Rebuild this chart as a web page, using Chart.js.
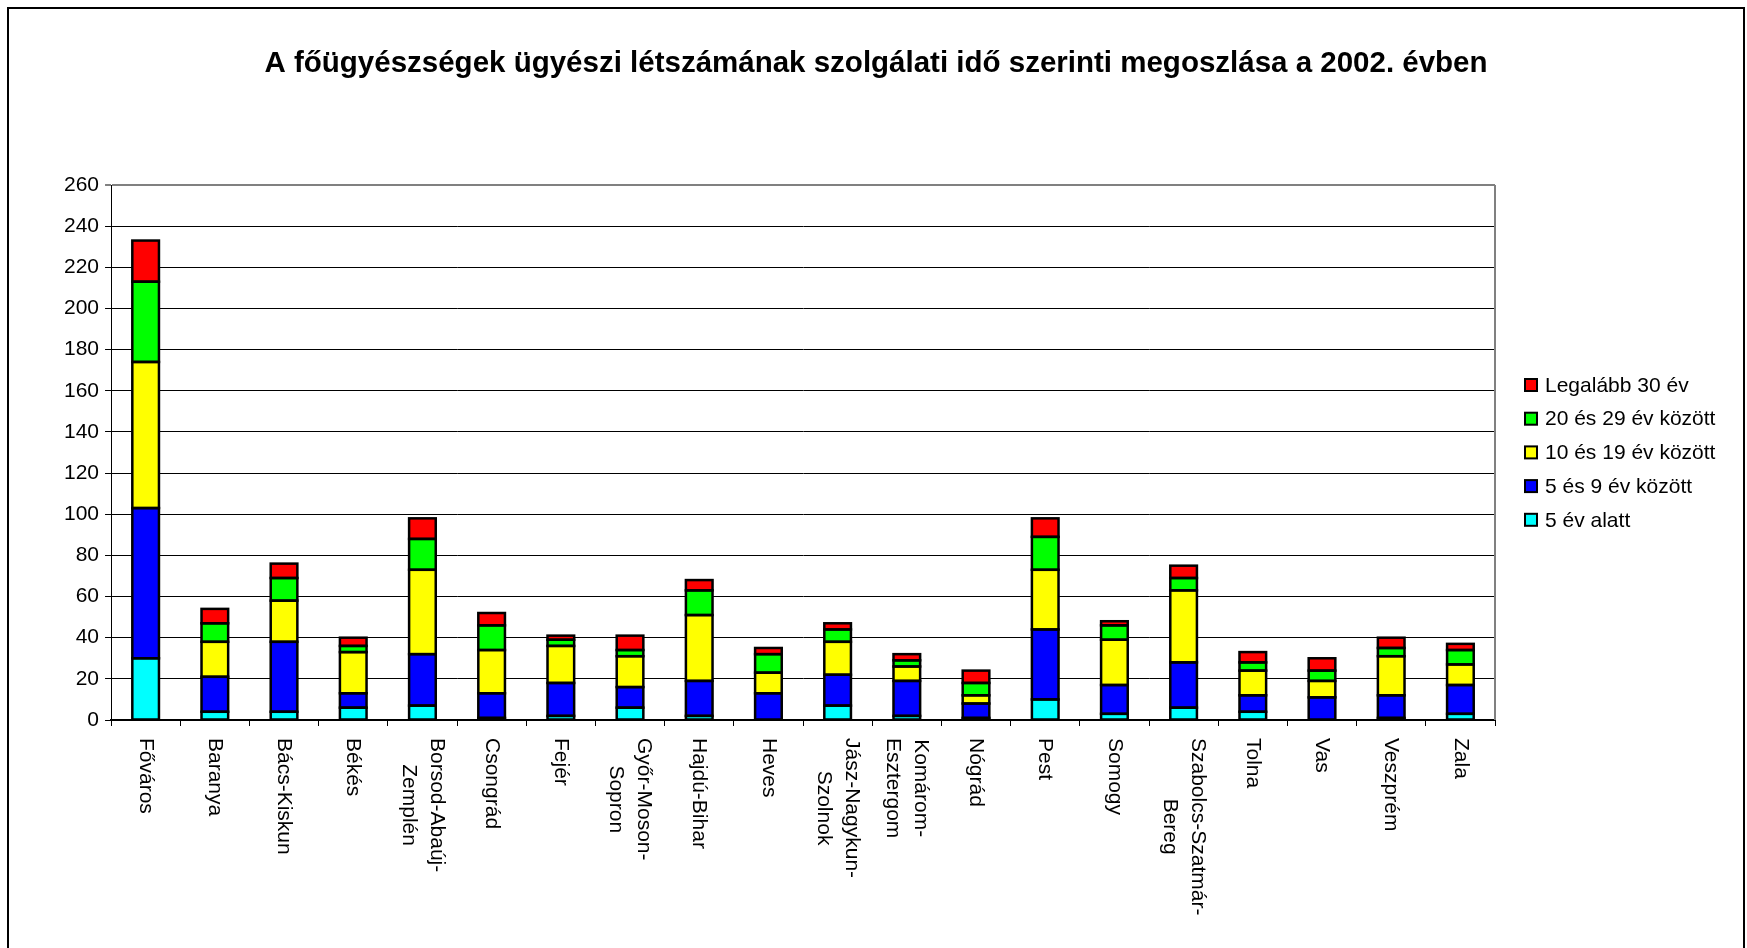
<!DOCTYPE html>
<html>
<head>
<meta charset="utf-8">
<script src="https://cdn.jsdelivr.net/npm/chart.js@4"></script>
<style>
  body { margin: 0; background: #fff; overflow: hidden; }
  #frame { position: absolute; left: 7px; top: 7px; width: 1738px; height: 1000px; border: 2px solid #000; box-sizing: border-box; }
  #chart { position: absolute; left: 0; top: 0; }
</style>
</head>
<body>
<div id="frame"></div>
<canvas id="chart" width="1747" height="948"></canvas>
<script>
const categories = [
    "Főváros", "Baranya", "Bács-Kiskun", "Békés", ["Borsod-Abaúj-", "Zemplén"], "Csongrád", "Fejér",
    ["Győr-Moson-", "Sopron"], "Hajdú-Bihar", "Heves", ["Jász-Nagykun-", "Szolnok"], ["Komárom-", "Esztergom"],
    "Nógrád", "Pest", "Somogy", ["Szabolcs-Szatmár-", "Bereg"], "Tolna", "Vas", "Veszprém", "Zala"
];
const alatt5 = [30, 4, 4, 6, 7, 1, 2, 6, 2, 0, 7, 2, 1, 10, 3, 6, 4, 0, 1, 3];
const kozott5_9 = [73, 17, 34, 7, 25, 12, 16, 10, 17, 13, 15, 17, 7, 34, 14, 22, 8, 11, 11, 14];
const kozott10_19 = [71, 17, 20, 20, 41, 21, 18, 15, 32, 10, 16, 7, 4, 29, 22, 35, 12, 8, 19, 10];
const kozott20_29 = [39, 9, 11, 3, 15, 12, 3, 3, 12, 9, 6, 3, 6, 16, 7, 6, 4, 5, 4, 7];
const legalabb30 = [20, 7, 7, 4, 10, 6, 2, 7, 5, 3, 3, 3, 6, 9, 2, 6, 5, 6, 5, 3];
const yTicks = [0, 20, 40, 60, 80, 100, 120, 140, 160, 180, 200, 220, 240, 260];

const title = "A főügyészségek ügyészi létszámának szolgálati idő szerinti megoszlása a 2002. évben";
const font = "Liberation Sans, Arial, sans-serif";

function ds(label, data, color) {
    return {
        label: label,
        data: data,
        backgroundColor: color,
        borderWidth: 0,
        inflateAmount: 0,
        barPercentage: 0.385,
        categoryPercentage: 1,
    };
}

// black outline round every bar segment (Excel style)
const outlines = {
    id: "outlines",
    afterDatasetsDraw(chart) {
        const ctx = chart.ctx;
        ctx.save();
        ctx.strokeStyle = "#000";
        ctx.lineWidth = 2.5;
        chart.data.datasets.forEach((d, i) => {
            chart.getDatasetMeta(i).data.forEach((el) => {
                const p = el.getProps(["x", "y", "base", "width"], true);
                const h = Math.abs(p.base - p.y);
                if (h < 0.5) return;
                ctx.strokeRect(p.x - p.width / 2, Math.min(p.y, p.base), p.width, h);
            });
        });
        ctx.restore();
    },
};

// title, frame lines, rotated x labels and legend
const extras = {
    id: "extras",
    afterDraw(chart) {
        const ctx = chart.ctx;
        const area = chart.chartArea;
        const xs = chart.scales.x;
        ctx.save();

        // gray right border of the plot
        ctx.strokeStyle = "#808080";
        ctx.lineWidth = 2;
        ctx.beginPath();
        ctx.moveTo(area.right, area.top);
        ctx.lineTo(area.right, area.bottom);
        ctx.stroke();

        ctx.fillStyle = "#000";
        ctx.font = "bold 29.5px " + font;
        ctx.textAlign = "center";
        ctx.textBaseline = "middle";
        ctx.fillText(title, 876, 64);

        // x labels, turned clockwise, lines centred on each other
        ctx.font = "21px " + font;
        ctx.textAlign = "left";
        categories.forEach((lab, i) => {
            const lines = Array.isArray(lab) ? lab : [lab];
            const widths = lines.map((ln) => ctx.measureText(ln).width);
            const maxW = Math.max(...widths);
            const x = xs.getPixelForValue(i);
            ctx.save();
            ctx.translate(x, area.bottom + 18);
            ctx.rotate(Math.PI / 2);
            lines.forEach((ln, k) => {
                ctx.fillText(ln, (maxW - widths[k]) / 2, (k - (lines.length - 1) / 2) * 28);
            });
            ctx.restore();
        });

        // legend, top item is the last dataset
        const sets = chart.data.datasets.slice().reverse();
        let y = 385;
        sets.forEach((d) => {
            ctx.fillStyle = d.backgroundColor;
            ctx.fillRect(area.right + 30, y - 6, 12, 12);
            ctx.strokeStyle = "#000";
            ctx.lineWidth = 2;
            ctx.strokeRect(area.right + 30, y - 6, 12, 12);
            ctx.fillStyle = "#000";
            ctx.fillText(d.label, area.right + 50, y + 1);
            y += 33.7;
        });
        ctx.restore();
    },
};

const ctx = document.getElementById("chart").getContext("2d");
new Chart(ctx, {
    type: "bar",
    data: {
        labels: categories,
        datasets: [
            ds("5 év alatt", alatt5, "#00FFFF"),
            ds("5 és 9 év között", kozott5_9, "#0000FF"),
            ds("10 és 19 év között", kozott10_19, "#FFFF00"),
            ds("20 és 29 év között", kozott20_29, "#00FF00"),
            ds("Legalább 30 év", legalabb30, "#FF0000"),
        ],
    },
    options: {
        responsive: false,
        animation: false,
        events: [],
        layout: { padding: { left: 58, right: 252, top: 185, bottom: 222 } },
        plugins: {
            legend: { display: false },
            title: { display: false },
            tooltip: { enabled: false },
        },
        scales: {
            x: {
                stacked: true,
                grid: { display: true, drawOnChartArea: false, drawTicks: true, tickLength: 6, color: "#000" },
                border: { color: "#000", width: 2 },
                ticks: { display: false },
            },
            y: {
                stacked: true,
                min: 0,
                max: 260,
                afterBuildTicks: (axis) => {
                    axis.ticks = yTicks.map((v) => ({ value: v }));
                },
                grid: {
                    color: (c) => (c.tick && c.tick.value === 260 ? "#808080" : "#000"),
                    lineWidth: (c) => (c.tick && c.tick.value === 260 ? 2 : 1),
                    tickLength: 6,
                },
                border: { color: "#000", width: 1 },
                ticks: { color: "#000", padding: 6, font: { family: font, size: 21 } },
            },
        },
    },
    plugins: [outlines, extras],
});
</script>
</body>
</html>
